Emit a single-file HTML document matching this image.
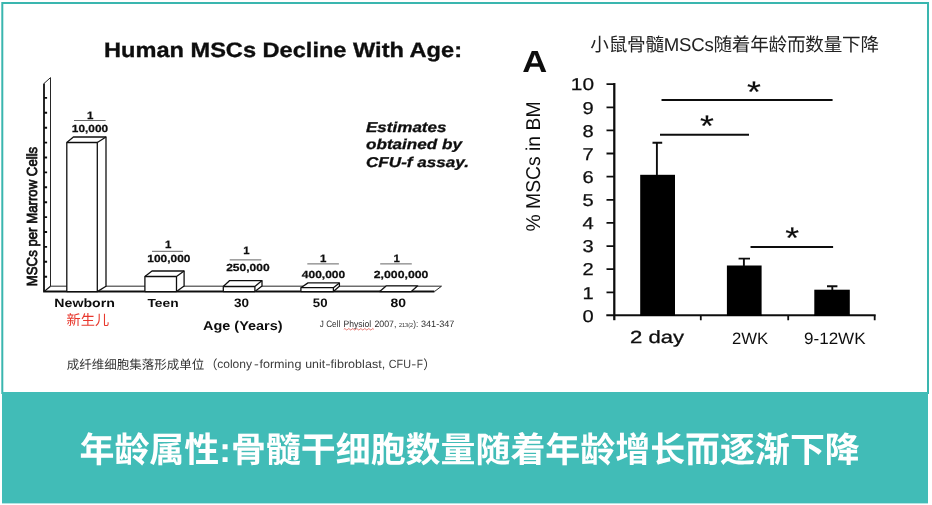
<!DOCTYPE html>
<html lang="zh">
<head>
<meta charset="utf-8">
<title>年龄属性</title>
<style>
html,body{margin:0;padding:0;background:#fff;}
body{width:932px;height:505px;overflow:hidden;}
svg{display:block;text-rendering:geometricPrecision;}
.a{font-family:"Liberation Sans","Noto Sans CJK SC",sans-serif;}
.b{font-family:"Liberation Sans","Noto Sans CJK SC",sans-serif;font-weight:bold;}
.c{font-family:"Liberation Sans","Noto Sans CJK SC",sans-serif;}
</style>
</head>
<body>
<svg width="932" height="505" viewBox="0 0 932 505">
<defs><filter id="soft" x="0" y="0" width="932" height="505" filterUnits="userSpaceOnUse"><feGaussianBlur stdDeviation="0.4"/></filter></defs>
<rect x="0" y="0" width="932" height="505" fill="#ffffff"/>

<!-- frame -->
<rect x="2.3" y="3" width="925.7" height="390" fill="none" stroke="#3ab6af" stroke-width="2"/>
<!-- banner -->
<rect x="2" y="392" width="926" height="111.4" fill="#41bcb7"/>
<g class="c" font-weight="bold" font-size="34.95" fill="#ffffff">
<text x="79.5" y="462.2">年龄属性:骨髓干细胞数量随着年龄增长而逐渐下降</text>
</g>

<!-- ================= LEFT CHART ================= -->
<g id="left" fill="#111" stroke="none" filter="url(#soft)">
<text class="b" x="104" y="56.8" font-size="20.9" stroke="#111" stroke-width="0.35" textLength="358" lengthAdjust="spacingAndGlyphs">Human MSCs Decline With Age:</text>

<g class="b" font-style="italic" font-size="14.2" stroke="#111" stroke-width="0.3">
<text x="366" y="131.8" textLength="80.5" lengthAdjust="spacingAndGlyphs">Estimates</text>
<text x="366" y="149.3" textLength="96" lengthAdjust="spacingAndGlyphs">obtained by</text>
<text x="366" y="167" textLength="103" lengthAdjust="spacingAndGlyphs">CFU-f assay.</text>
</g>

<!-- y axis -->
<g stroke="#111" fill="none">
<path d="M44 83.5 L44 291.6" stroke-width="1.8"/>
<path d="M44 83.5 L50.5 77.6 L50.5 286.2" stroke-width="0.9"/>
<path d="M44 97.9h3.1M44 112.8h3.1M44 127.7h3.1M44 142.6h3.1M44 157.5h3.1M44 172.4h3.1M44 187.3h3.1M44 202.2h3.1M44 217.1h3.1M44 232h3.1M44 246.9h3.1M44 261.8h3.1M44 276.7h3.1" stroke-width="1.9"/>
<!-- floor -->
<path d="M43.2 291.4 L434.4 291.4" stroke-width="2"/>
<path d="M50.5 286.2 L441.5 286.2 L434.4 291.6" stroke-width="0.9"/>
<path d="M44 291.6 L50.5 286.2" stroke-width="1.2"/>
</g>

<!-- bars -->
<g stroke="#111" stroke-width="1.3" fill="#fff" stroke-linejoin="round">
<!-- newborn -->
<path d="M66.8 142.5 L73.4 137 L106 137 L106 286.2 L97.3 291.6 L66.8 291.6 Z"/>
<path d="M66.8 142.5 L97.3 142.5 L97.3 291.6 M97.3 142.5 L106 137" fill="none"/>
<!-- teen -->
<path d="M144.9 276.5 L152 271 L184.1 271 L184.1 286 L176.5 291.6 L144.9 291.6 Z"/>
<path d="M144.9 276.5 L176.5 276.5 L176.5 291.6 M176.5 276.5 L184.1 271" fill="none"/>
<!-- 30 -->
<path d="M223.3 286.5 L229.7 280.6 L262 280.6 L262 286 L254.9 291.6 L223.3 291.6 Z"/>
<path d="M223.3 286.5 L254.9 286.5 L254.9 291.6 M254.9 286.5 L262 280.6" fill="none"/>
<!-- 50 -->
<path d="M300.9 287.7 L308 282.9 L339.4 282.9 L339.4 286.2 L333.4 291.6 L300.9 291.6 Z"/>
<path d="M300.9 287.7 L333.4 287.7 L333.4 291.6 M333.4 287.7 L339.4 282.9" fill="none"/>
<!-- 80 -->
<path d="M379.7 291.6 L386.4 285.8 L417.7 285.8 L411.3 291.6 Z"/>
</g>

<!-- fractions -->
<g stroke="#555" stroke-width="0.9">
<path d="M74 120.5H105.6M152 251.3H183M229.7 259.9H261.3M307.3 263.9H338.9M380.2 263.9H411.8"/>
</g>
<g class="b" font-size="10.3" text-anchor="middle" stroke="#111" stroke-width="0.25">
<text x="90.2" y="118.8" font-size="10.6" textLength="6.4" lengthAdjust="spacingAndGlyphs">1</text>
<text x="90" y="131.7" textLength="36.3" lengthAdjust="spacingAndGlyphs">10,000</text>
<text x="168.3" y="247.9" font-size="10.6" textLength="6.4" lengthAdjust="spacingAndGlyphs">1</text>
<text x="168.9" y="261.6" textLength="43.2" lengthAdjust="spacingAndGlyphs">100,000</text>
<text x="246.4" y="254.2" font-size="10.6" textLength="6.4" lengthAdjust="spacingAndGlyphs">1</text>
<text x="247.9" y="271" textLength="43.4" lengthAdjust="spacingAndGlyphs">250,000</text>
<text x="323.3" y="262" font-size="10.6" textLength="6.4" lengthAdjust="spacingAndGlyphs">1</text>
<text x="323.5" y="277.7" textLength="43.5" lengthAdjust="spacingAndGlyphs">400,000</text>
<text x="396.8" y="262" font-size="10.6" textLength="6.4" lengthAdjust="spacingAndGlyphs">1</text>
<text x="401.1" y="277.7" textLength="54.6" lengthAdjust="spacingAndGlyphs">2,000,000</text>
</g>

<!-- x labels -->
<g class="b" font-size="12">
<text x="54.3" y="307.3" textLength="60.6" lengthAdjust="spacingAndGlyphs">Newborn</text>
<text x="147.4" y="307.3" font-size="11.8" textLength="31.2" lengthAdjust="spacingAndGlyphs">Teen</text>
<text x="234" y="307.1" font-size="12.2" textLength="15" lengthAdjust="spacingAndGlyphs">30</text>
<text x="312.8" y="307.1" font-size="12.2" textLength="14.7" lengthAdjust="spacingAndGlyphs">50</text>
<text x="390.4" y="307.1" font-size="12.2" textLength="15.5" lengthAdjust="spacingAndGlyphs">80</text>
<text x="203" y="330.4" font-size="12.8" textLength="79.6" lengthAdjust="spacingAndGlyphs">Age (Years)</text>
</g>
<text class="c" x="66.5" y="325" font-size="14.2" fill="#e8392f">新生儿</text>

<!-- y label -->
<text class="a" stroke="#111" stroke-width="0.75" font-size="14.6" transform="translate(36.9 286.2) rotate(-90)" textLength="139.4" lengthAdjust="spacingAndGlyphs">MSCs per Marrow Cells</text>

<!-- citation -->
<g class="a" font-size="9.2" fill="#2a2a2a">
<text x="319.8" y="326.8" textLength="20.4" lengthAdjust="spacingAndGlyphs">J Cell</text>
<text x="343.6" y="326.8" textLength="27.6" lengthAdjust="spacingAndGlyphs">Physiol</text>
<text x="374.4" y="326.8" textLength="22" lengthAdjust="spacingAndGlyphs">2007,</text>
<text x="399" y="326.8" font-size="5.8" textLength="14" lengthAdjust="spacingAndGlyphs">213(2</text>
<text x="413.2" y="326.8" textLength="5" lengthAdjust="spacingAndGlyphs">):</text>
<text x="421" y="326.8" textLength="33.4" lengthAdjust="spacingAndGlyphs">341-347</text>
</g>
<path d="M343.8 329.3 q1 -1.5 2 0 t2 0 t2 0 t2 0 t2 0 t2 0 t2 0 t2 0 t2 0 t2 0 t2 0 t2 0 t2 0 t2 0 t2 0" fill="none" stroke="#e03a30" stroke-width="0.7"/>

<!-- caption -->
<g fill="#333" font-size="12.5">
<text class="c" x="66.7" y="368.6" textLength="137.5" lengthAdjust="spacing">成纤维细胞集落形成单位</text>
<text class="c" x="205" y="368.6">（</text>
<g class="a" font-size="11.9" fill="#3c3c3c">
<text x="217.2" y="368" textLength="34.8" lengthAdjust="spacingAndGlyphs">colony</text>
<text x="253.9" y="368" textLength="4.8" lengthAdjust="spacingAndGlyphs">-</text>
<text x="259.4" y="368" textLength="42" lengthAdjust="spacingAndGlyphs">forming</text>
<text x="305.2" y="368" textLength="19.9" lengthAdjust="spacingAndGlyphs">unit</text>
<text x="325.2" y="368" textLength="5.4" lengthAdjust="spacingAndGlyphs">-</text>
<text x="330.6" y="368" textLength="54.6" lengthAdjust="spacingAndGlyphs">fibroblast,</text>
<text x="388.8" y="368" textLength="22.2" lengthAdjust="spacingAndGlyphs">CFU</text>
<text x="411.3" y="368" textLength="5" lengthAdjust="spacingAndGlyphs">-</text>
<text x="416.8" y="368" textLength="6.2" lengthAdjust="spacingAndGlyphs">F</text>
</g>
<text class="c" x="423.2" y="368.6">）</text>
</g>
</g>

<!-- ================= RIGHT CHART ================= -->
<g id="right" fill="#111" filter="url(#soft)">
<text class="c" x="590.3" y="51.2" font-size="18.6" fill="#222" textLength="288.8" lengthAdjust="spacing">小鼠骨髓MSCs随着年龄而数量下降</text>
<text class="b" x="522.2" y="72.2" font-size="30.4" textLength="25" lengthAdjust="spacingAndGlyphs">A</text>

<!-- axes -->
<g stroke="#111" stroke-width="1.8" fill="none">
<path d="M614.3 83.1 V320.2" stroke-width="2.3"/>
<path d="M606.3 315.2 H875.7" stroke-width="2"/>
<path d="M606.5 84.1H614.6M606.5 107.3H614.6M606.5 130.4H614.6M606.5 153.5H614.6M606.5 176.7H614.6M606.5 199.8H614.6M606.5 222.9H614.6M606.5 246.1H614.6M606.5 269.2H614.6M606.5 292.3H614.6"/>
<path d="M700.8 315.4V320.2M788.2 315.4V320.2M874.7 315.4V320.2"/>
</g>

<!-- tick labels -->
<g class="a" font-size="17.2" text-anchor="end" stroke="#111" stroke-width="0.25">
<text x="594" y="90.3" textLength="23.2" lengthAdjust="spacingAndGlyphs">10</text>
<text x="593.8" y="113.5" textLength="11.2" lengthAdjust="spacingAndGlyphs">9</text>
<text x="593.8" y="136.6" textLength="11.2" lengthAdjust="spacingAndGlyphs">8</text>
<text x="593.8" y="159.7" textLength="11.2" lengthAdjust="spacingAndGlyphs">7</text>
<text x="593.8" y="182.9" textLength="11.2" lengthAdjust="spacingAndGlyphs">6</text>
<text x="593.8" y="206" textLength="11.2" lengthAdjust="spacingAndGlyphs">5</text>
<text x="593.8" y="229.1" textLength="11.2" lengthAdjust="spacingAndGlyphs">4</text>
<text x="593.8" y="252.3" textLength="11.2" lengthAdjust="spacingAndGlyphs">3</text>
<text x="593.8" y="275.4" textLength="11.2" lengthAdjust="spacingAndGlyphs">2</text>
<text x="593.8" y="298.5" textLength="11.2" lengthAdjust="spacingAndGlyphs">1</text>
<text x="593.8" y="321.6" textLength="11.2" lengthAdjust="spacingAndGlyphs">0</text>
</g>
<text class="a" font-size="20" transform="translate(540.2 231.5) rotate(-90)" textLength="130" lengthAdjust="spacingAndGlyphs">% MSCs in BM</text>

<!-- bars -->
<rect x="640.2" y="174.8" width="34.8" height="141.2" fill="#000"/>
<rect x="726.9" y="265.5" width="34.7" height="50.5" fill="#000"/>
<rect x="814.3" y="289.7" width="35.5" height="26.3" fill="#000"/>
<g stroke="#111" stroke-width="1.9" fill="none">
<path d="M656.9 175V142.8M652.5 142.8H662.2"/>
<path d="M743.9 266V258.6M738.6 258.6H750"/>
<path d="M832.3 290V286.3M827 286.3H837.4"/>
<!-- significance lines -->
<path d="M661.5 99.9H832.6M660 134.8H749M750.5 247.1H833.1" stroke-width="2"/>
</g>
<g class="a" font-size="29.7" text-anchor="middle" stroke="#111" stroke-width="0.15">
<text transform="translate(754 101.7) scale(1.2 1)">*</text>
<text transform="translate(706.9 135.7) scale(1.2 1)">*</text>
<text transform="translate(792.3 248.2) scale(1.2 1)">*</text>
</g>

<!-- x labels -->
<text class="a" stroke="#111" stroke-width="0.3" x="630" y="342.8" font-size="17.6" textLength="54" lengthAdjust="spacingAndGlyphs">2 day</text>
<text class="a" x="731.9" y="343.7" font-size="16.4" textLength="36.2" lengthAdjust="spacingAndGlyphs">2WK</text>
<text class="a" x="804" y="343.7" font-size="16.4" textLength="61.6" lengthAdjust="spacingAndGlyphs">9-12WK</text>
</g>
</svg>
</body>
</html>
